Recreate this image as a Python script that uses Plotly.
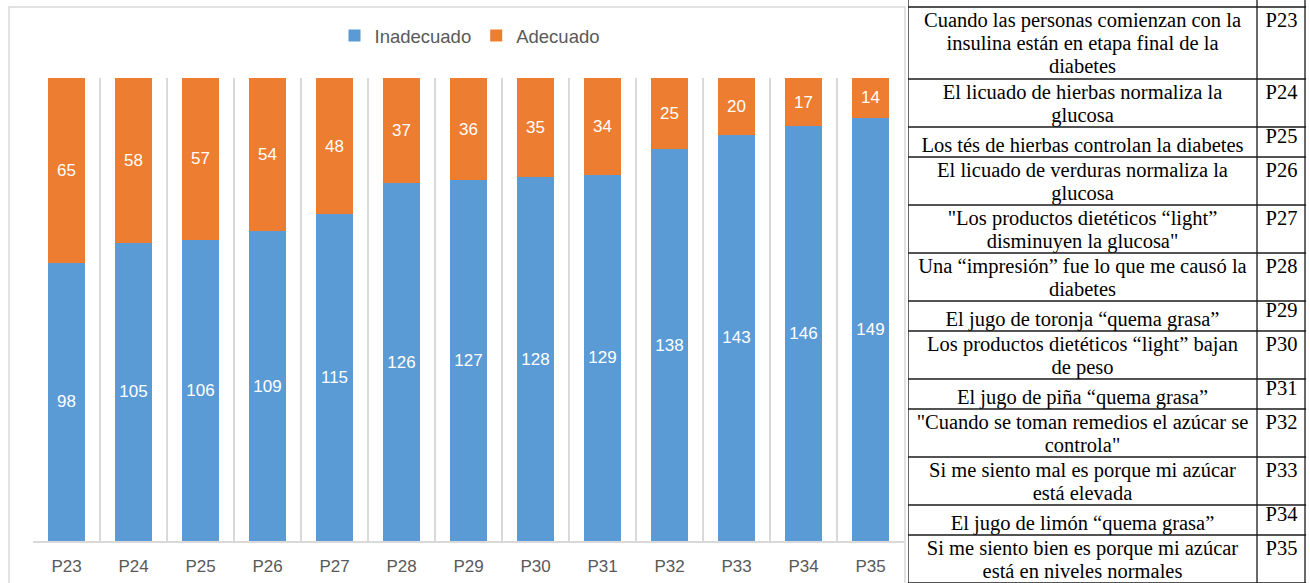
import plotly.graph_objects as go

W, H = 1310, 583

categories = ["P23", "P24", "P25", "P26", "P27", "P28", "P29", "P30", "P31", "P32", "P33", "P34", "P35"]
inadecuado = [98, 105, 106, 109, 115, 126, 127, 128, 129, 138, 143, 146, 149]
adecuado = [65, 58, 57, 54, 48, 37, 36, 35, 34, 25, 20, 17, 14]
statements = [
    "Cuando las personas comienzan con la<br>insulina están en etapa final de la<br>diabetes",
    "El licuado de hierbas normaliza la<br>glucosa",
    "Los tés de hierbas controlan la diabetes",
    "El licuado de verduras normaliza la<br>glucosa",
    "\"Los productos dietéticos “light”<br>disminuyen la glucosa\"",
    "Una “impresión” fue lo que me causó la<br>diabetes",
    "El jugo de toronja “quema grasa”",
    "Los productos dietéticos “light” bajan<br>de peso",
    "El jugo de piña “quema grasa”",
    "\"Cuando se toman remedios el azúcar se<br>controla\"",
    "Si me siento mal es porque mi azúcar<br>está elevada",
    "El jugo de limón “quema grasa”",
    "Si me siento bien es porque mi azúcar<br>está en niveles normales",
]

BLUE = "#5B9BD5"
ORANGE = "#ED7D31"
GRAY_TXT = "#595959"
GRID = "#D9D9D9"

fig = go.Figure()
fig.add_trace(go.Bar(
    x=categories, y=inadecuado, name="Inadecuado",
    marker=dict(color=BLUE, line=dict(width=0)),
    texttemplate="%{y}", textposition="inside", insidetextanchor="middle",
    textangle=0, textfont=dict(color="white", size=17, family="Liberation Sans"),
))
fig.add_trace(go.Bar(
    x=categories, y=adecuado, name="Adecuado",
    marker=dict(color=ORANGE, line=dict(width=0)),
    texttemplate="%{y}", textposition="inside", insidetextanchor="middle",
    textangle=0, textfont=dict(color="white", size=17, family="Liberation Sans"),
))

# ---- table drawn on its own pixel-like axes (x2 / y2) ----
TX0, TX1 = 908, 1306           # table left/right in figure px
TW = TX1 - TX0
COL_SPLIT = 349                # width of statement column
TOP = 7
LINE = "#1a1a1a"

row_tops, row_bottoms = [], []
txt_x, txt_y, txt_s = [], [], []
lab_x, lab_y, lab_s = [], [], []
y = TOP
for s, c in zip(statements, categories):
    lines = s.split("<br>")
    n = len(lines)
    h = 30 if n == 1 else 24 * n
    row_tops.append(y)
    row_bottoms.append(y + h)
    if n == 1:
        txt_x.append(COL_SPLIT / 2); txt_y.append(y + 20); txt_s.append(lines[0])
        lab_y.append(y + 11)
    else:
        for i, ln in enumerate(lines):
            txt_x.append(COL_SPLIT / 2); txt_y.append(y + 15 + 23 * i); txt_s.append(ln)
        lab_y.append(y + 15)
    lab_x.append(COL_SPLIT + (TW - COL_SPLIT) / 2)
    lab_s.append(c)
    y += h

serif = dict(family="Liberation Serif", size=20.5, color="black")
fig.add_trace(go.Scatter(
    x=txt_x, y=txt_y, text=txt_s, mode="text", textposition="middle center",
    textfont=serif, xaxis="x2", yaxis="y2", showlegend=False, hoverinfo="skip",
))
fig.add_trace(go.Scatter(
    x=lab_x, y=lab_y, text=lab_s, mode="text", textposition="middle center",
    textfont=serif, xaxis="x2", yaxis="y2", showlegend=False, hoverinfo="skip",
))

shapes = [dict(
    type="rect", xref="paper", yref="paper",
    x0=9 / W, x1=905 / W, y0=-0.05, y1=(H - TOP) / H,
    line=dict(color=GRID, width=1.5), layer="below",
)]
# horizontal cell borders
for yy in [row_tops[0]] + row_bottoms:
    shapes.append(dict(type="line", xref="x2", yref="y2", x0=0, x1=TW, y0=yy, y1=yy,
                       line=dict(color=LINE, width=1.3)))
# vertical cell borders
for xx in [0, COL_SPLIT, TW - 1]:
    shapes.append(dict(type="line", xref="x2", yref="y2", x0=xx, x1=xx, y0=0, y1=H,
                       line=dict(color=LINE, width=1.3)))

fig.update_layout(
    width=W, height=H,
    margin=dict(l=0, r=0, t=0, b=0),
    paper_bgcolor="white", plot_bgcolor="white",
    barmode="stack", bargap=0.433,
    font=dict(family="Liberation Sans", color=GRAY_TXT),
    showlegend=True,
    legend=dict(
        orientation="h", x=470 / W, xanchor="center", y=(H - 36) / H, yanchor="middle",
        font=dict(size=18.5, color=GRAY_TXT), traceorder="normal",
    ),
    xaxis=dict(
        domain=[33 / W, 904 / W], type="category", tickson="boundaries",
        showgrid=True, gridcolor=GRID, gridwidth=2,
        showline=True, linecolor=GRID, linewidth=2,
        ticks="", ticklabelstandoff=9,
        tickfont=dict(size=17, color=GRAY_TXT, family="Liberation Sans"),
        automargin=False,
    ),
    yaxis=dict(
        domain=[(H - 541) / H, (H - 78) / H], range=[0, 163],
        visible=False, showgrid=False, automargin=False,
    ),
    xaxis2=dict(domain=[TX0 / W, TX1 / W], range=[0, TW], visible=False,
                fixedrange=True, anchor="y2"),
    yaxis2=dict(domain=[0, 1], range=[H, 0], visible=False,
                fixedrange=True, anchor="x2"),
    shapes=shapes,
)

fig.write_html("out.html")
